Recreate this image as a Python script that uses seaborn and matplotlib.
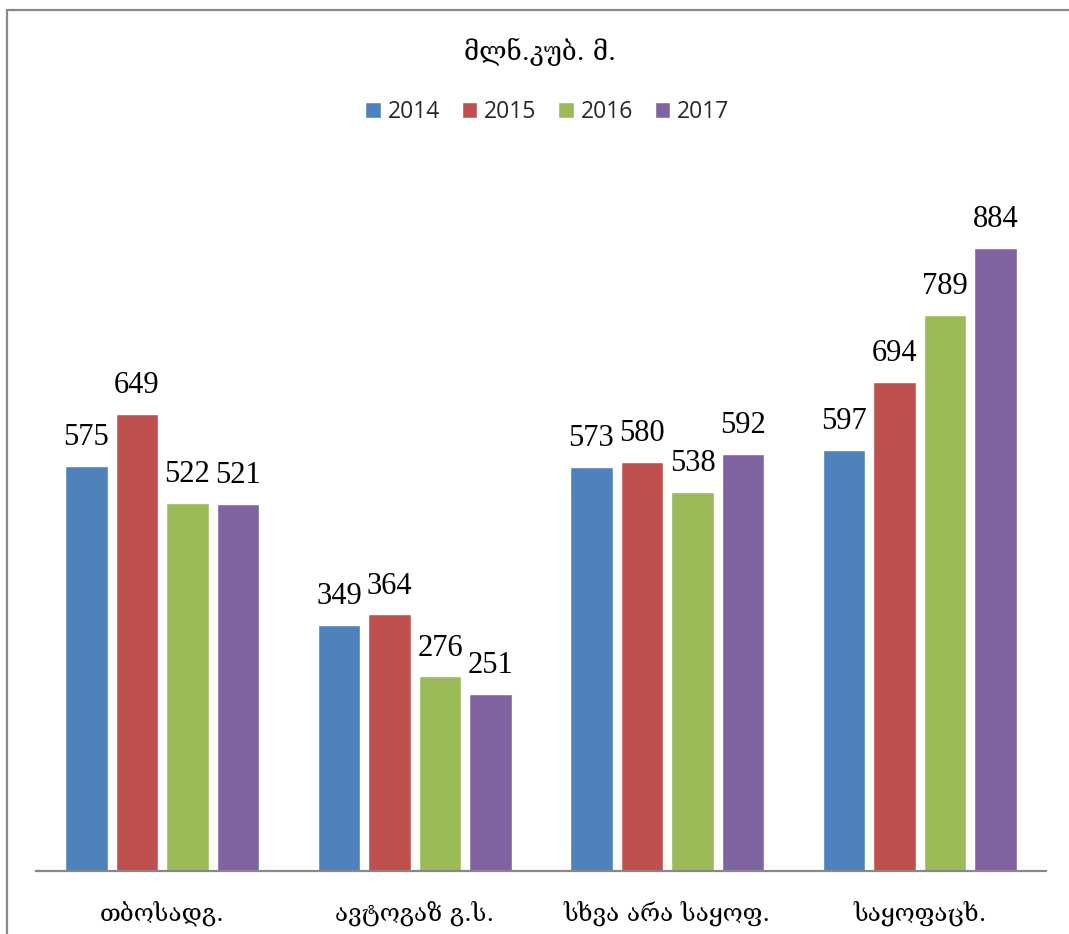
import matplotlib
matplotlib.use("Agg")
import matplotlib.pyplot as plt
import seaborn as sns
import pandas as pd
from matplotlib.lines import Line2D

# Data: water use by category and year (million cubic metres)
categories = ["თბოსადგ.", "ავტოგაზ გ.ს.", "სხვა არა საყოფ.", "საყოფაცხ."]
years = ["2014", "2015", "2016", "2017"]
values_2014 = [575, 349, 573, 597]
values_2015 = [649, 364, 580, 694]
values_2016 = [522, 276, 538, 789]
values_2017 = [521, 251, 592, 884]
colors = ["#4F81BD", "#C0504D", "#9BBB59", "#8064A2"]
title = "მლნ.კუბ. მ."

series = [values_2014, values_2015, values_2016, values_2017]
rows = []
for year, vals in zip(years, series):
    for cat, v in zip(categories, vals):
        rows.append({"category": cat, "year": year, "value": v})
df = pd.DataFrame(rows)

sns.set_theme(style="white")
plt.rcParams["font.family"] = ["DejaVu Serif", "DejaVu Sans"]

W, H = 1069, 934
fig = plt.figure(figsize=(W / 100, H / 100), dpi=100)
ax = fig.add_axes([36 / W, 63 / H, 1010 / W, 704.8 / H])

sns.barplot(data=df, x="category", y="value", hue="year", order=categories,
            hue_order=years, palette=colors, width=0.8, gap=0.16,
            saturation=1, ax=ax, errorbar=None, legend=True)

for cont in ax.containers:
    ax.bar_label(cont, fmt="%d", padding=10, fontsize=22,
                 family=["Liberation Serif", "DejaVu Serif"], color="black")

ax.set_xlim(-0.5, 3.5)
ax.set_ylim(0, 1000)
ax.set_xlabel("")
ax.set_ylabel("")
ax.set_yticks([])
for s in ["top", "right", "left"]:
    ax.spines[s].set_visible(False)
ax.spines["bottom"].set_color("#888888")
ax.spines["bottom"].set_linewidth(1.6)
ax.tick_params(axis="x", length=0, pad=21, labelsize=17.5, colors="black")
for lab in ax.get_xticklabels():
    lab.set_family(["DejaVu Serif", "DejaVu Sans"])

# Legend across the top
handles, labels = ax.get_legend_handles_labels()
ax.legend_.remove()
fig.legend(handles, labels, loc="center", bbox_to_anchor=(0.512, 1 - 112 / H),
           ncol=4, frameon=False, handlelength=0.68,
           handleheight=0.68, handletextpad=0.3, columnspacing=0.95,
           prop={"family": ["Open Sans", "DejaVu Sans"], "size": 16.5})

fig.text(0.505, 1 - 52 / H, title, ha="center", va="center", fontsize=18.5,
         family=["DejaVu Serif", "DejaVu Sans"], color="black")

# Chart-area frame (left and top edges)
fig.add_artist(Line2D([7 / W, 7 / W], [0, 1 - 10 / H], transform=fig.transFigure,
                      color="#888888", linewidth=1.6))
fig.add_artist(Line2D([7 / W, 1], [1 - 10 / H, 1 - 10 / H], transform=fig.transFigure,
                      color="#888888", linewidth=1.6))

fig.savefig("out.png", dpi=100, facecolor="white")
